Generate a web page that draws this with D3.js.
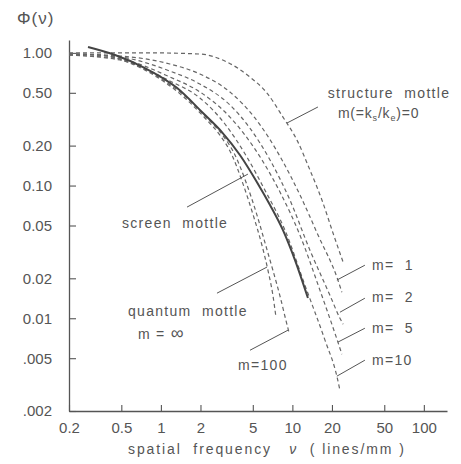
<!DOCTYPE html>
<html>
<head>
<meta charset="utf-8">
<script src="https://cdn.jsdelivr.net/npm/d3@7"></script>
<style>
  body { margin: 0; background: #fff; }
  svg text { font-family: "Liberation Sans", Arial, sans-serif; fill: #555; }
</style>
</head>
<body>
<svg id="chart" width="461" height="464"></svg>
<script>
// tick values and their printed labels
const freqTicks = [0.2, 0.5, 1, 2, 5, 10, 20, 50, 100];
const freqTickLabels = ["0.2", "0.5", "1", "2", "5", "10", "20", "50", "100"];
const phiTicks = [1, 0.5, 0.2, 0.1, 0.05, 0.02, 0.01, 0.005, 0.002];
const phiTickLabels = ["1.00", "0.50", "0.20", "0.10", "0.05", "0.02", "0.01", ".005", ".002"];

// curves: [spatial frequency (lines/mm), phi]
const screenMottle = [[0.279,1.107],[0.448,0.963],[0.731,0.782],[1.33,0.543],[2.09,0.352],[2.91,0.253],[3.99,0.170],[5.38,0.106],[6.76,0.0713],[8.48,0.0461],[10.47,0.0274],[13.13,0.0142]];
const mZero = [[0.2,1.0],[0.826,1.0],[1.98,0.98],[3.18,0.853],[4.75,0.658],[6.41,0.498],[8.48,0.328],[10.84,0.220],[13.6,0.131],[16.8,0.0776],[20.4,0.0437],[24.3,0.0265]];
const mOne = [[0.2,0.98],[0.489,0.947],[1.17,0.824],[1.98,0.693],[3.35,0.507],[5.19,0.323],[8.34,0.156],[11.43,0.0848],[15.7,0.0422],[22.2,0.0194],[23.8,0.0157]];
const mTwo = [[0.2,0.98],[0.489,0.930],[1.17,0.729],[1.98,0.582],[3.35,0.405],[4.75,0.271],[6.76,0.156],[9.59,0.0776],[13.6,0.0326],[19.3,0.0149],[23.0,0.0100],[24.3,0.00902]];
const mFive = [[0.2,0.963],[0.489,0.899],[1.17,0.658],[1.98,0.507],[3.35,0.328],[5.87,0.156],[8.05,0.0893],[11.43,0.0422],[16.2,0.0163],[22.2,0.00661],[23.8,0.00536]];
const mTen = [[0.2,0.963],[0.489,0.883],[1.17,0.614],[1.98,0.457],[3.07,0.291],[4.51,0.164],[6.18,0.0924],[8.79,0.0461],[12.47,0.0177],[17.7,0.00684],[21.8,0.00366],[23.0,0.00287]];
const mHundred = [[0.2,0.98],[0.344,0.963],[0.582,0.853],[0.984,0.646],[1.52,0.473],[2.20,0.328],[2.91,0.244],[3.66,0.170],[4.44,0.106],[5.38,0.0599],[6.30,0.0349],[7.11,0.0230],[8.05,0.0147],[8.93,0.00966],[9.42,0.00785]];
const mInfinity = [[0.2,0.98],[0.344,0.963],[0.582,0.838],[0.984,0.635],[1.52,0.457],[2.16,0.323],[2.81,0.240],[3.47,0.170],[4.14,0.108],[5.01,0.0609],[5.87,0.0355],[6.52,0.0230],[7.11,0.0149],[7.50,0.0102]];

const dashedCurves = [mZero, mOne, mTwo, mFive, mTen, mHundred, mInfinity];

// annotation labels, anchored in data units (left edge, vertical centre)
const labels = [
  { text: "structure  mottle", f: 18.6, v: 0.498 },
  { text: "screen  mottle", f: 0.506, v: 0.0521 },
  { text: "quantum  mottle", f: 0.562, v: 0.0114 },
  { text: "m=100", f: 3.86, v: 0.00442 },
  { text: "m=  1", f: 40.3, v: 0.0251 },
  { text: "m=  2", f: 40.3, v: 0.0144 },
  { text: "m=  5", f: 40.3, v: 0.00841 },
  { text: "m=10", f: 40.3, v: 0.00483 }
];
// leader lines: [label end, curve end]
const leaders = [
  [[15.65, 0.391], [9.10, 0.296]],
  [[1.58, 0.0688], [4.59, 0.122]],
  [[2.67, 0.01545], [6.41, 0.0243]],
  [[4.76, 0.00574], [9.26, 0.00813]],
  [[35.6, 0.0251], [21.8, 0.0194]],
  [[35.6, 0.01416], [23.0, 0.0111]],
  [[35.6, 0.00841], [22.2, 0.00661]],
  [[35.6, 0.00483], [21.8, 0.00366]]
];

const ink = "#555";
const svg = d3.select("#chart");

const x = d3.scaleLog().domain([0.2, 150]).range([69, 447]);
const y = d3.scaleLog().domain([0.002, 1.25]).range([411, 40]);

const line = d3.line()
  .x(d => x(d[0]))
  .y(d => y(d[1]))
  .curve(d3.curveMonotoneX);

// axes
const xAxis = d3.axisBottom(x)
  .tickValues(freqTicks)
  .tickFormat((d, i) => freqTickLabels[i])
  .tickSizeInner(-6).tickSizeOuter(0).tickPadding(11);
const yAxis = d3.axisLeft(y)
  .tickValues(phiTicks)
  .tickFormat((d, i) => phiTickLabels[i])
  .tickSizeInner(-7).tickSizeOuter(0).tickPadding(17);

const gx = svg.append("g").attr("transform", `translate(0,${y(0.002)})`).call(xAxis);
const gy = svg.append("g").attr("transform", `translate(${x(0.2)},0)`).call(yAxis);

[gx, gy].forEach(g => {
  g.attr("font-family", null).attr("font-size", null);
  g.select(".domain").attr("stroke", ink).attr("stroke-width", 1.3);
  g.selectAll(".tick line").attr("stroke", ink).attr("stroke-width", 1.1);
  g.selectAll(".tick text").style("font-size", "15px").attr("fill", ink);
});

// curves
svg.append("g")
  .selectAll("path")
  .data(dashedCurves)
  .enter()
  .append("path")
  .attr("d", d => line(d))
  .attr("fill", "none")
  .attr("stroke", "#666")
  .attr("stroke-width", 1.2)
  .attr("stroke-dasharray", "4,3");

svg.append("path")
  .attr("d", line(screenMottle))
  .attr("fill", "none")
  .attr("stroke", "#444")
  .attr("stroke-width", 2);

// leaders
svg.append("g")
  .selectAll("line")
  .data(leaders)
  .enter()
  .append("line")
  .attr("x1", d => x(d[0][0])).attr("y1", d => y(d[0][1]))
  .attr("x2", d => x(d[1][0])).attr("y2", d => y(d[1][1]))
  .attr("stroke", ink)
  .attr("stroke-width", 1);

// labels
svg.append("g")
  .selectAll("text")
  .data(labels)
  .enter()
  .append("text")
  .attr("x", d => x(d.f))
  .attr("y", d => y(d.v))
  .attr("dy", "0.35em")
  .style("font-size", "14px")
  .style("letter-spacing", "1.3px")
  .style("white-space", "pre")
  .text(d => d.text);

// m(=ks/ke)=0 with subscripts
const mk = svg.append("text")
  .attr("x", x(22.2)).attr("y", y(0.352)).attr("dy", "0.35em")
  .style("font-size", "14px").style("letter-spacing", "0.8px");
mk.append("tspan").text("m(=k");
mk.append("tspan").attr("dy", 3).style("font-size", "9px").text("s");
mk.append("tspan").attr("dy", -3).text("/k");
mk.append("tspan").attr("dy", 3).style("font-size", "9px").text("e");
mk.append("tspan").attr("dy", -3).text(")=0");

// m = infinity
const mi = svg.append("text")
  .attr("x", x(0.669)).attr("y", y(0.0076)).attr("dy", "0.35em")
  .style("font-size", "14px").style("letter-spacing", "1.3px").style("white-space", "pre");
mi.append("tspan").text("m = ");
mi.append("tspan").style("font-size", "18px").text("∞");

// axis titles
svg.append("text")
  .attr("x", 17).attr("y", 24)
  .style("font-size", "17px")
  .style("letter-spacing", "1px")
  .text("Φ(ν)");

const xt = svg.append("text")
  .attr("x", 128).attr("y", 454)
  .style("font-size", "14px").style("letter-spacing", "1.9px").style("white-space", "pre");
xt.append("tspan").text("spatial  frequency   ");
xt.append("tspan").style("font-style", "italic").text("ν");
xt.append("tspan").text("  ( lines/mm )");
</script>
</body>
</html>
